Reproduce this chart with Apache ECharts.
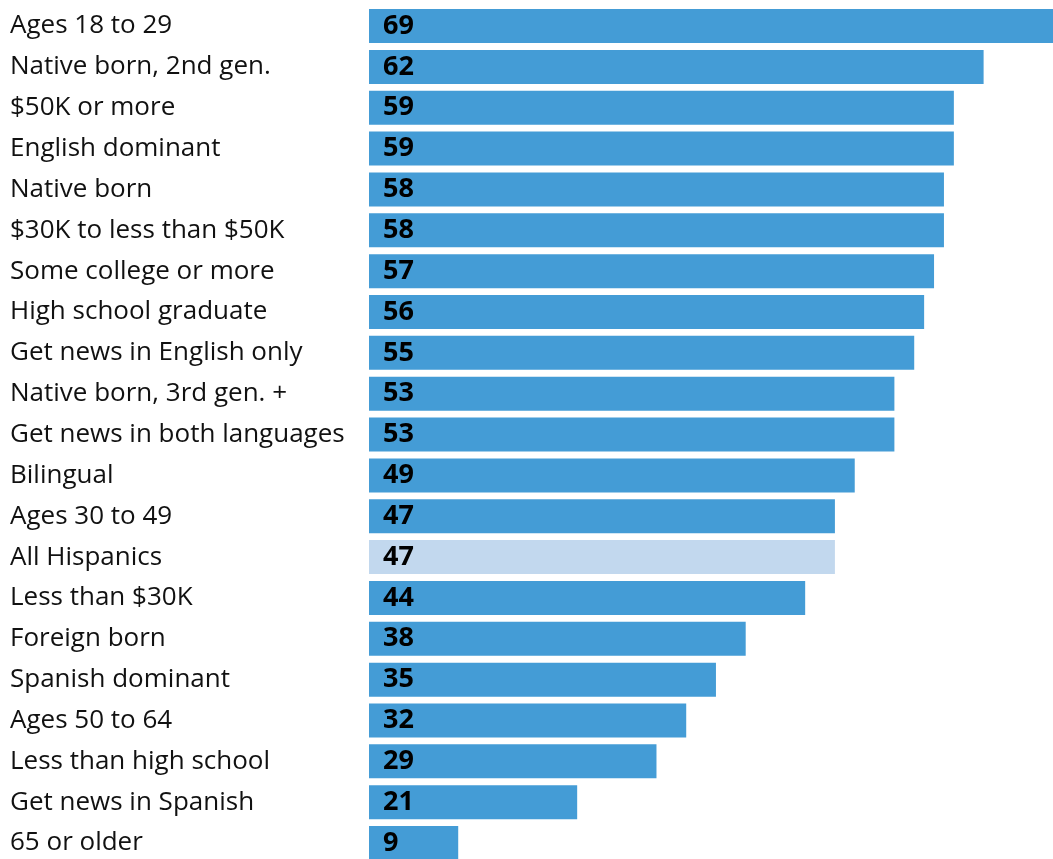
<!DOCTYPE html>
<html>
<head>
<meta charset="utf-8">
<script src="https://cdn.jsdelivr.net/npm/echarts@6/dist/echarts.min.js"></script>
<style>
  html, body { margin: 0; padding: 0; background: #ffffff; overflow: hidden; }
  /* the last row runs a few pixels past the visible bottom edge */
  #chart { width: 1053px; height: 864px; }
</style>
</head>
<body>
<div id="chart"></div>
<script>
// Groups, top to bottom
const categories = [
  "Ages 18 to 29",
  "Native born, 2nd gen.",
  "$50K or more",
  "English dominant",
  "Native born",
  "$30K to less than $50K",
  "Some college or more",
  "High school graduate",
  "Get news in English only",
  "Native born, 3rd gen. +",
  "Get news in both languages",
  "Bilingual",
  "Ages 30 to 49",
  "All Hispanics",
  "Less than $30K",
  "Foreign born",
  "Spanish dominant",
  "Ages 50 to 64",
  "Less than high school",
  "Get news in Spanish",
  "65 or older"
];
const values = [69, 62, 59, 59, 58, 58, 57, 56, 55, 53, 53, 49, 47, 47, 44, 38, 35, 32, 29, 21, 9];
const highlighted = ["All Hispanics"];

const BAR = "#449cd6";
const BAR_LIGHT = "#c2d8ee";
const FONT = "'Open Sans', 'Noto Sans', sans-serif";

const chart = echarts.init(document.getElementById("chart"), null, { renderer: "canvas" });

// category axis runs bottom-up, so reverse for top-to-bottom order
const cats = categories.slice().reverse();
const data = values.slice().reverse().map((v, i) => ({
  value: v,
  itemStyle: { color: highlighted.includes(cats[i]) ? BAR_LIGHT : BAR }
}));

chart.setOption({
  animation: false,
  grid: { left: 369, right: 0, top: 5.6, height: 857.9, containLabel: false },
  xAxis: {
    type: "value", min: 0, max: 69,
    show: false
  },
  yAxis: {
    type: "category",
    data: cats,
    axisLine: { show: false },
    axisTick: { show: false },
    axisLabel: {
      align: "left",
      margin: 359,
      color: "#111111",
      fontFamily: FONT,
      fontSize: 26
    }
  },
  series: [{
    type: "bar",
    data: data,
    barWidth: 34,
    label: {
      show: true,
      position: "insideLeft",
      distance: 14,
      color: "#000000",
      fontFamily: FONT,
      fontWeight: "bold",
      fontSize: 27
    }
  }]
});
</script>
</body>
</html>
